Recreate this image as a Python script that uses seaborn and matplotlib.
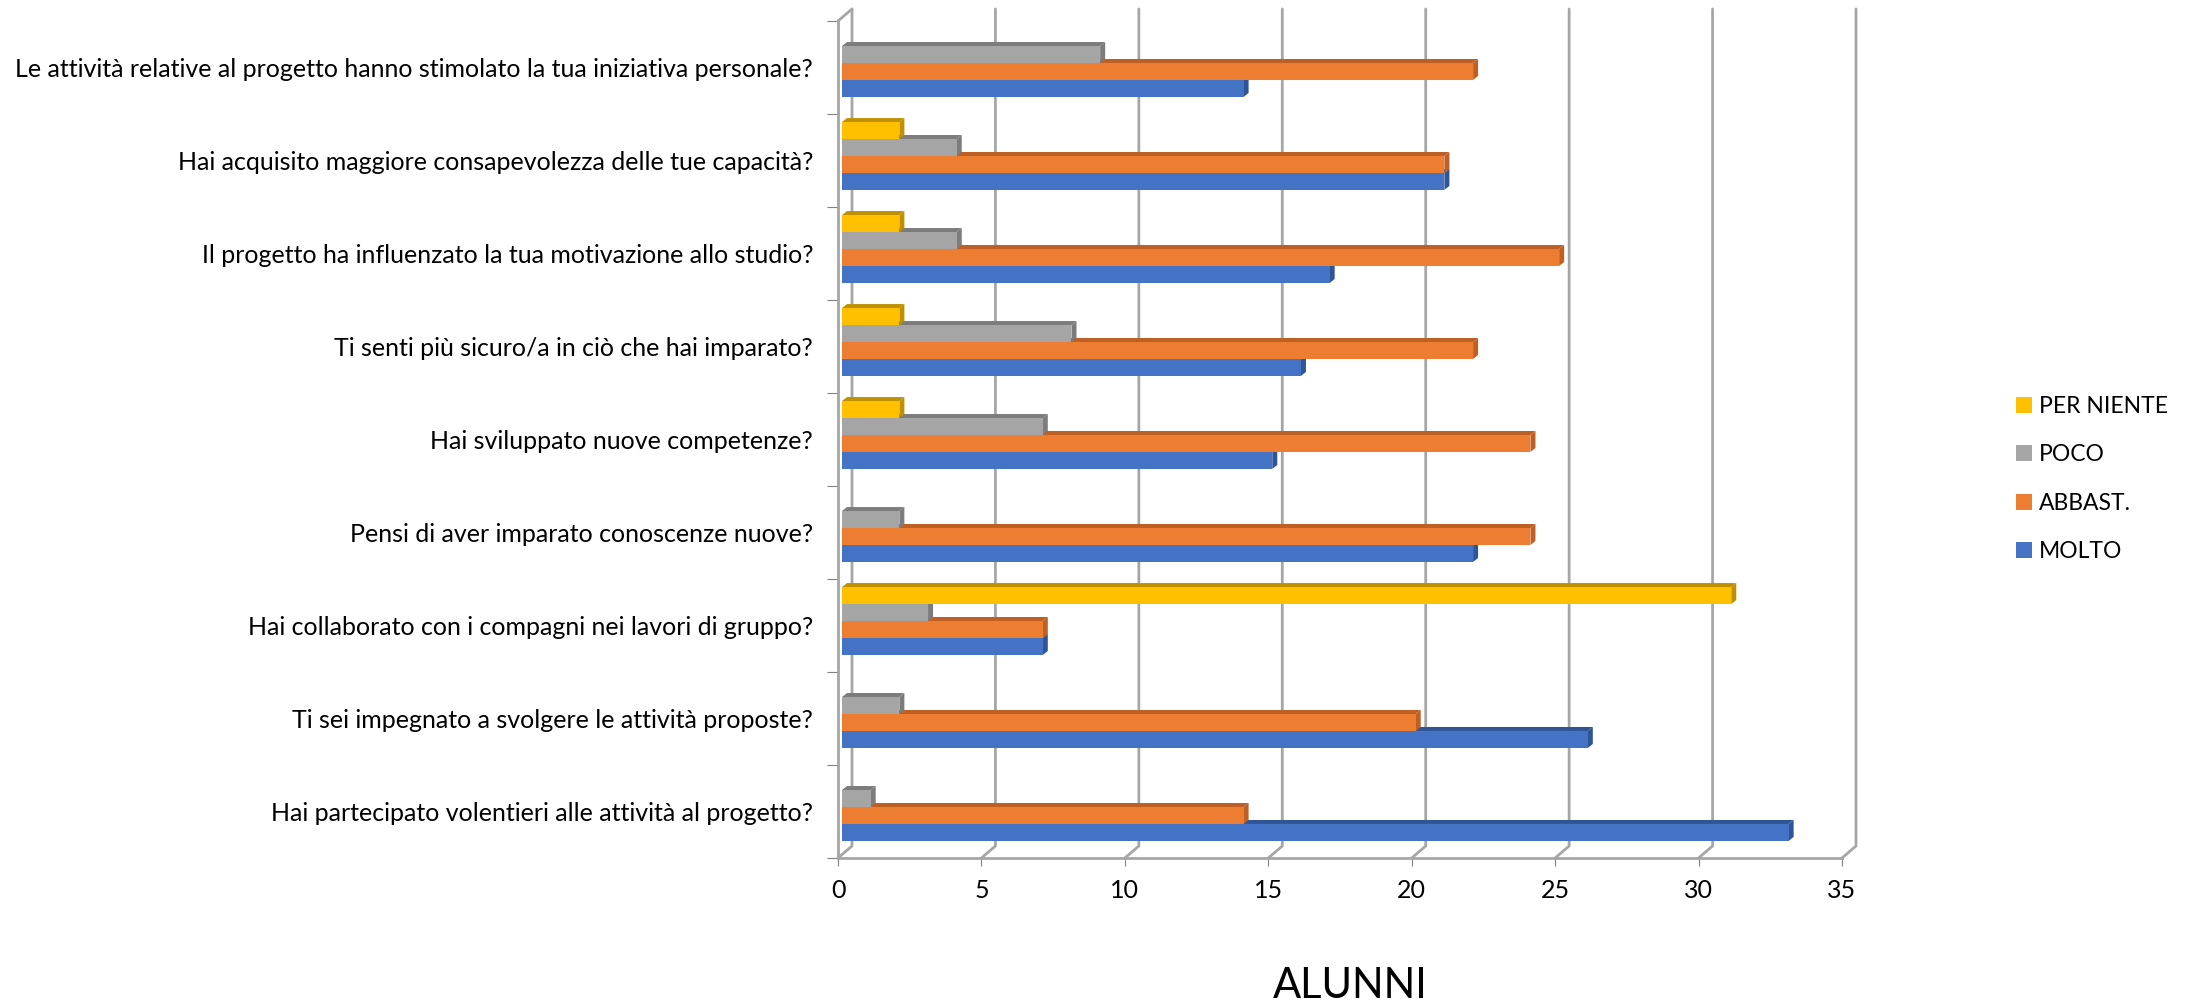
import matplotlib
matplotlib.use("Agg")
import matplotlib.pyplot as plt
from matplotlib.patches import Polygon
from matplotlib.transforms import IdentityTransform
import pandas as pd
import seaborn as sns

domande = [
    "Le attività relative al progetto hanno stimolato la tua iniziativa personale?",
    "Hai acquisito maggiore consapevolezza delle tue capacità?",
    "Il progetto ha influenzato la tua motivazione allo studio?",
    "Ti senti più sicuro/a in ciò che hai imparato?",
    "Hai sviluppato nuove competenze?",
    "Pensi di aver imparato conoscenze nuove?",
    "Hai collaborato con i compagni nei lavori di gruppo?",
    "Ti sei impegnato a svolgere le attività proposte?",
    "Hai partecipato volentieri alle attività al progetto?",
]
per_niente = [0, 2, 2, 2, 2, 0, 31, 0, 0]
poco = [9, 4, 4, 8, 7, 2, 3, 2, 1]
abbast = [22, 21, 25, 22, 24, 24, 7, 20, 14]
molto = [14, 21, 17, 16, 15, 22, 7, 26, 33]
x_ticks = [0, 5, 10, 15, 20, 25, 30, 35]

risposte = ["PER NIENTE", "POCO", "ABBAST.", "MOLTO"]
colori = ["#FFC000", "#A5A5A5", "#ED7D31", "#4472C4"]
scuri = ["#BF9000", "#7C7C7C", "#BE5F24", "#2F5597"]
GRIGIO = "#A6A6A6"

W, H = 2192, 1001
sns.set_theme(style="white")
plt.rcParams["font.family"] = ["Lato", "DejaVu Sans"]

df = pd.DataFrame({
    "domanda": domande * 4,
    "risposta": [r for r in risposte for _ in domande],
    "alunni": per_niente + poco + abbast + molto,
})

fig = plt.figure(figsize=(W / 100, H / 100), dpi=100)

# front plane of the fake 3d box (pixels measured on the reference)
L, R, T, B = 838, 1842, 21, 858
wall = fig.add_axes([L / W, 1 - B / H, (R - L) / W, (B - T) / H])
ax = fig.add_axes([(L + 4) / W, 1 - (B - 4.5) / H, (R - L) / W, (B - T) / H])

sns.barplot(data=df, y="domanda", x="alunni", hue="risposta", hue_order=risposte,
            palette=colori, saturation=1, order=domande, width=0.73, gap=0,
            orient="y", ax=ax, legend=False, linewidth=0, edgecolor="none")
ax.set_xlim(0, 35)
ax.set_ylim(8.5, -0.5)
ax.axis("off")
ax.patch.set_alpha(0)

# side and top face of each bar, lower series are drawn first
fig.canvas.draw()
dx, dy = 5, 4
for i, cont in enumerate(ax.containers):
    z = 10 + (3 - i) * 2
    for rect in cont:
        rect.set_zorder(z + 1)
        if rect.get_width() == 0:
            rect.set_visible(False)
            continue
        x0, y0 = rect.get_x(), rect.get_y()
        (px0, py0), (px1, py1) = ax.transData.transform(
            [(x0, y0 + rect.get_height()), (x0 + rect.get_width(), y0)])
        tetto = [(px0, py1), (px1, py1), (px1 + dx, py1 + dy), (px0 + dx, py1 + dy)]
        lato = [(px1, py0), (px1 + dx, py0 + dy), (px1 + dx, py1 + dy), (px1, py1)]
        for pts in (tetto, lato):
            ax.add_patch(Polygon(pts, closed=True, facecolor=scuri[i], edgecolor="none",
                                 transform=IdentityTransform(), zorder=z, clip_on=False))

# walls
wall.set_xlim(0, 35)
wall.set_ylim(8.5, -0.5)
for s in ["top", "right"]:
    wall.spines[s].set_visible(False)
for s in ["left", "bottom"]:
    wall.spines[s].set_color(GRIGIO)
    wall.spines[s].set_linewidth(2)

wall.set_xticks(x_ticks)
wall.tick_params(axis="x", bottom=True, length=6, width=0.8, color="#808080",
                 labelsize=18, labelcolor="black", pad=9)
wall.set_yticks([i - 0.5 for i in range(10)])
wall.set_yticklabels([])
wall.tick_params(axis="y", which="major", left=True, length=8, width=0.8, color="#808080")
wall.set_yticks(range(len(domande)), minor=True)
wall.set_yticklabels(domande, minor=True)
wall.tick_params(axis="y", which="minor", left=False, length=0, labelsize=18,
                 labelcolor="black", pad=18)

sx, sy = 14, 12
for x in x_ticks:
    (px, pb), (_, pt) = wall.transData.transform([(x, 8.5), (x, -0.5)])
    wall.plot([px, px + sx, px + sx], [pb, pb + sy, pt + sy], color=GRIGIO, lw=2,
              transform=IdentityTransform(), clip_on=False, zorder=1)
(px, pb), (_, pt) = wall.transData.transform([(0, 8.5), (0, -0.5)])
wall.plot([px, px + sx], [pt, pt + sy], color=GRIGIO, lw=2,
          transform=IdentityTransform(), clip_on=False, zorder=1)

fig.text(1350 / W, 1 - 986 / H, "ALUNNI", fontsize=30, color="black", ha="center", va="center")

handles = [plt.Rectangle((0, 0), 1, 1, facecolor=c, linewidth=0) for c in colori]
fig.legend(handles, risposte, loc="center left", bbox_to_anchor=(1995 / W, 1 - 479 / H),
           frameon=False, fontsize=16.5, handlelength=0.72, handleheight=0.72,
           handletextpad=0.3, labelspacing=1.2, labelcolor="black")

fig.savefig("out.png", dpi=100)
